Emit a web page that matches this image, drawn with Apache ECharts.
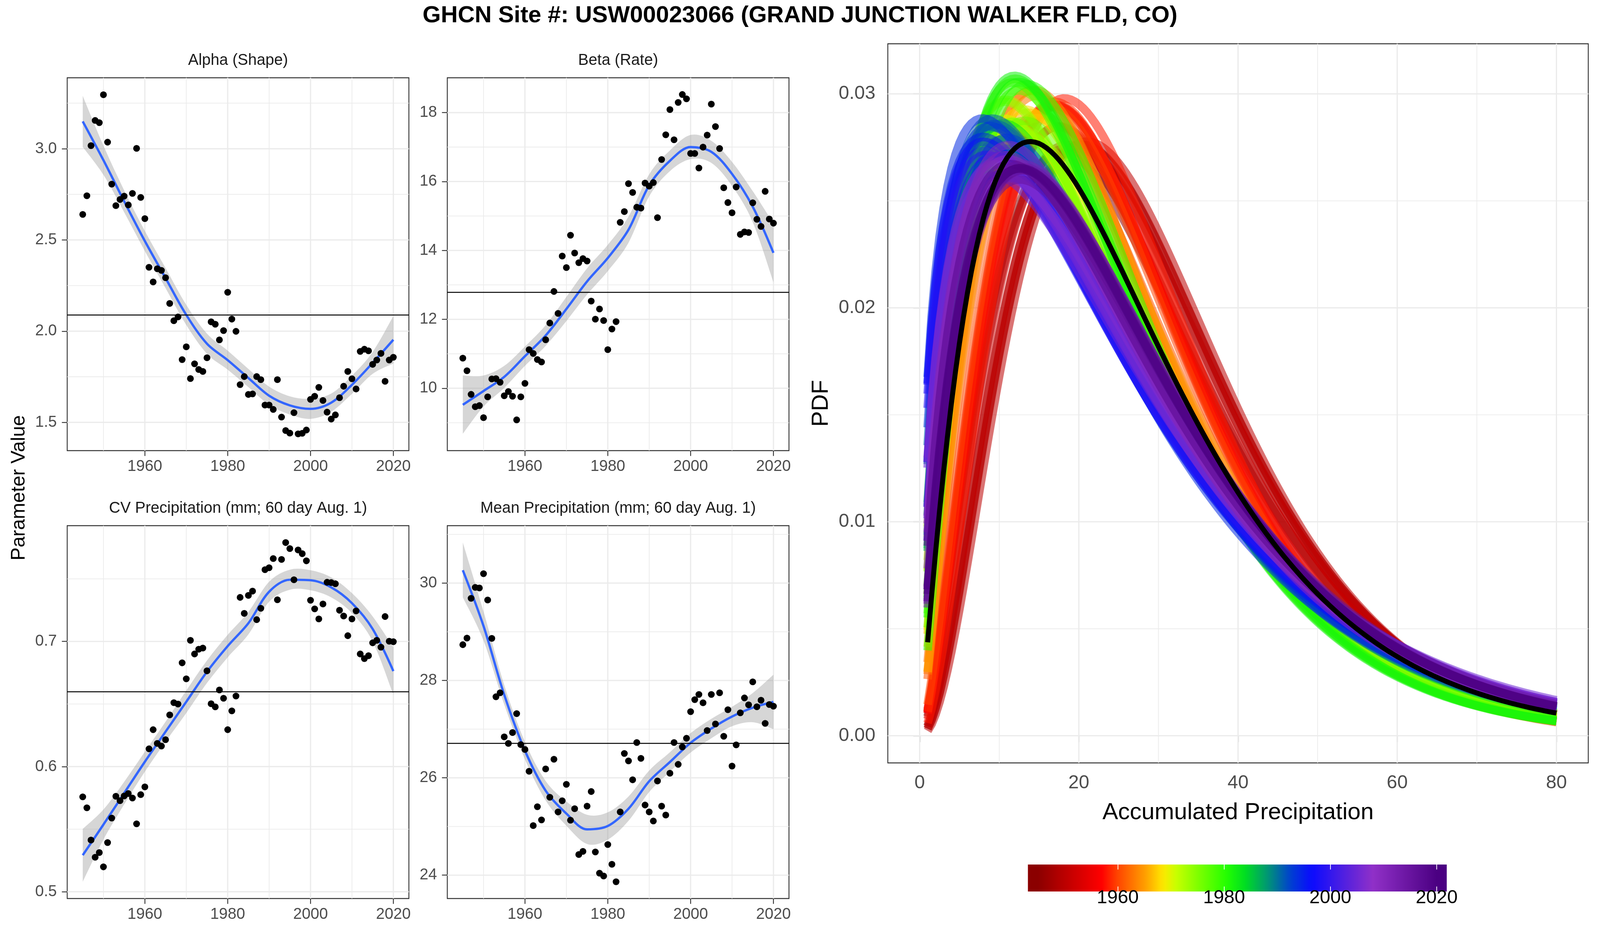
<!DOCTYPE html>
<html>
<head>
<meta charset="utf-8">
<title>GHCN USW00023066 gamma parameters</title>
<script src="https://cdn.jsdelivr.net/npm/echarts@6/dist/echarts.min.js"></script>
<style>
  html, body { margin: 0; padding: 0; background: #fff; overflow: hidden; }
  #chart { width: 100vw; height: 100vh; }
</style>
</head>
<body>
<div id="chart"></div>
<script>
// one value per year, 1945 - 2020
const years = Array.from({ length: 76 }, (_, i) => 1945 + i);

const alphaObs = [
  2.640, 2.742, 3.017, 3.155, 3.143, 3.296, 3.036, 2.806, 2.688, 2.722,
  2.740, 2.692, 2.755, 3.002, 2.733, 2.617, 2.350, 2.270, 2.342, 2.333,
  2.293, 2.152, 2.057, 2.078, 1.844, 1.914, 1.740, 1.821, 1.790, 1.779,
  1.854, 2.051, 2.038, 1.952, 2.003, 2.213, 2.066, 1.999, 1.707, 1.751,
  1.653, 1.656, 1.751, 1.734, 1.595, 1.595, 1.571, 1.734, 1.529, 1.455,
  1.441, 1.553, 1.437, 1.440, 1.458, 1.626, 1.643, 1.692, 1.620, 1.556,
  1.518, 1.541, 1.635, 1.698, 1.779, 1.739, 1.683, 1.889, 1.901, 1.892,
  1.818, 1.842, 1.878, 1.725, 1.842, 1.857
];
const betaObs = [
  10.874, 10.508, 9.823, 9.465, 9.497, 9.146, 9.752, 10.269, 10.277, 10.174,
  9.783, 9.903, 9.768, 9.083, 9.752, 10.142, 11.121, 11.010, 10.834, 10.763,
  11.408, 11.893, 12.809, 12.172, 13.836, 13.502, 14.441, 13.924, 13.645, 13.764,
  13.693, 12.530, 12.005, 12.299, 11.965, 11.121, 11.718, 11.933, 14.815, 15.126,
  15.938, 15.683, 15.253, 15.229, 15.954, 15.866, 15.970, 14.951, 16.639, 17.355,
  18.088, 17.212, 18.295, 18.525, 18.398, 16.814, 16.814, 16.392, 16.997, 17.347,
  18.247, 17.594, 16.957, 15.818, 15.389, 15.094, 15.842, 14.465, 14.537, 14.521,
  15.381, 14.903, 14.696, 15.715, 14.911, 14.791
];
const cvObs = [
  0.5758, 0.5671, 0.5413, 0.5276, 0.5313, 0.5199, 0.5393, 0.5589, 0.5763, 0.5728,
  0.5765, 0.5785, 0.5749, 0.5543, 0.5776, 0.5838, 0.6142, 0.6295, 0.6185, 0.6164,
  0.6215, 0.6413, 0.6511, 0.6500, 0.6829, 0.6701, 0.7009, 0.6900, 0.6938, 0.6947,
  0.6765, 0.6502, 0.6477, 0.6612, 0.6546, 0.6295, 0.6445, 0.6564, 0.7352, 0.7224,
  0.7368, 0.7402, 0.7174, 0.7265, 0.7573, 0.7589, 0.7662, 0.7333, 0.7655, 0.7790,
  0.7742, 0.7493, 0.7731, 0.7701, 0.7644, 0.7329, 0.7260, 0.7180, 0.7299, 0.7473,
  0.7470, 0.7461, 0.7249, 0.7203, 0.7046, 0.7180, 0.7244, 0.6900, 0.6863, 0.6886,
  0.6989, 0.7009, 0.6954, 0.7199, 0.7002, 0.6998
];
const meanObs = [
  28.735, 28.871, 29.688, 29.912, 29.900, 30.194, 29.653, 28.865, 27.665, 27.747,
  26.841, 26.706, 26.929, 27.318, 26.682, 26.582, 26.135, 25.018, 25.406, 25.135,
  26.182, 25.600, 26.382, 25.300, 25.529, 25.865, 25.129, 25.365, 24.424, 24.488,
  25.418, 25.718, 24.476, 24.041, 23.982, 24.629, 24.224, 23.865, 25.300, 26.500,
  26.347, 25.959, 26.724, 26.400, 25.441, 25.300, 25.112, 25.935, 25.418, 25.235,
  26.094, 26.724, 26.276, 26.635, 26.812, 27.359, 27.606, 27.712, 27.541, 26.971,
  27.712, 27.106, 27.747, 26.853, 27.400, 26.241, 26.676, 27.335, 27.641, 27.500,
  27.971, 27.459, 27.594, 27.118, 27.506, 27.471
];

// loess fit and its band, read every 5 years
const fitYears = [1945, 1950, 1955, 1960, 1965, 1970, 1975, 1980, 1985, 1990, 1995, 2000, 2005, 2010, 2015, 2020];
const alphaFit = [3.150, 2.937, 2.712, 2.494, 2.291, 2.089, 1.931, 1.841, 1.743, 1.646, 1.593, 1.574, 1.608, 1.706, 1.826, 1.953];
const alphaLo  = [3.010, 2.857, 2.652, 2.439, 2.236, 2.034, 1.876, 1.789, 1.693, 1.596, 1.543, 1.519, 1.558, 1.656, 1.766, 1.823];
const alphaHi  = [3.290, 3.017, 2.772, 2.549, 2.346, 2.144, 1.986, 1.893, 1.793, 1.696, 1.643, 1.629, 1.658, 1.756, 1.886, 2.083];
const betaFit  = [9.52, 9.92, 10.33, 10.93, 11.53, 12.30, 13.10, 13.78, 14.60, 15.89, 16.60, 17.00, 16.86, 16.22, 15.27, 13.93];
const betaLo   = [8.68, 9.47, 10.01, 10.65, 11.23, 11.95, 12.72, 13.40, 14.22, 15.57, 16.30, 16.65, 16.54, 15.87, 14.82, 13.08];
const betaHi   = [10.37, 10.37, 10.65, 11.21, 11.83, 12.65, 13.48, 14.16, 14.98, 16.21, 16.90, 17.35, 17.18, 16.57, 15.72, 14.78];
const cvFit    = [0.5292, 0.5537, 0.5788, 0.6039, 0.6279, 0.6518, 0.6758, 0.6963, 0.7146, 0.7397, 0.7493, 0.7489, 0.7432, 0.7306, 0.7100, 0.6763];
const cvLo     = [0.5080, 0.5417, 0.5698, 0.5959, 0.6199, 0.6428, 0.6668, 0.6873, 0.7056, 0.7317, 0.7413, 0.7409, 0.7352, 0.7226, 0.7000, 0.6575];
const cvHi     = [0.5502, 0.5657, 0.5878, 0.6119, 0.6359, 0.6608, 0.6848, 0.7053, 0.7236, 0.7477, 0.7573, 0.7569, 0.7512, 0.7386, 0.7200, 0.6953];
const meanFit  = [30.265, 29.118, 27.706, 26.559, 25.735, 25.265, 24.941, 25.010, 25.365, 25.929, 26.324, 26.718, 27.012, 27.259, 27.441, 27.559];
const meanLo   = [29.706, 28.818, 27.506, 26.379, 25.535, 25.015, 24.641, 24.730, 25.115, 25.709, 26.124, 26.518, 26.812, 27.059, 27.141, 27.000];
const meanHi   = [30.835, 29.418, 27.906, 26.739, 25.935, 25.515, 25.241, 25.290, 25.615, 26.149, 26.524, 26.918, 27.212, 27.459, 27.741, 28.118];

// long-term values (black reference lines)
const alphaAvg = 2.086;
const betaAvg = 12.79;
const cvAvg = 0.6573;
const meanAvg = 26.71;

const yearTicks = [1960, 1980, 2000, 2020];
const cbLabels = [1960, 1980, 2000, 2020];

// ---------- styles / layout (designed for 4500 x 2400, scaled to the viewport) ----------
const VW = window.innerWidth, VH = window.innerHeight;
const sx = VW / 4500, sy = VH / 2400, sf = Math.min(sx, sy);
const X = v => v * sx, Y = v => v * sy, S = v => v * sf;

const FONT = '"Liberation Sans", Arial, Helvetica, sans-serif';
const GRID_COLOR = '#EBEBEB';
const BORDER = '#333333';

const rampYears = [1945, 1957, 1960, 1965.5, 1968.5, 1971, 1975, 1980.5, 1984, 1988.5, 1992.5, 1996.5, 2002.5, 2008, 2020];
const rampColors = ['#8B0000', '#FF0000', '#FF4500', '#FFA500', '#FFE800', '#C8FF00', '#80FF00', '#22FF00',
  '#00DD22', '#00907A', '#0040D0', '#0A0AFF', '#5020E0', '#9030C8', '#4B0082'];
const cbMin = 1943.1, cbMax = 2021.9;

const panels = [
  { title: 'Alpha (Shape)', obs: alphaObs, fit: alphaFit, lo: alphaLo, hi: alphaHi, avg: alphaAvg,
    yMin: 1.345, yMax: 3.389, yTicks: [1.5, 2.0, 2.5, 3.0], yMinor: [1.75, 2.25, 2.75, 3.25], digits: 1 },
  { title: 'Beta (Rate)', obs: betaObs, fit: betaFit, lo: betaLo, hi: betaHi, avg: betaAvg,
    yMin: 8.19, yMax: 19.01, yTicks: [10, 12, 14, 16, 18], yMinor: [9, 11, 13, 15, 17], digits: 0 },
  { title: 'CV Precipitation (mm; 60 day Aug. 1)', obs: cvObs, fit: cvFit, lo: cvLo, hi: cvHi, avg: cvAvg,
    yMin: 0.4946, yMax: 0.7925, yTicks: [0.5, 0.6, 0.7], yMinor: [0.55, 0.65, 0.75], digits: 1 },
  { title: 'Mean Precipitation (mm; 60 day Aug. 1)', obs: meanObs, fit: meanFit, lo: meanLo, hi: meanHi, avg: meanAvg,
    yMin: 23.52, yMax: 31.18, yTicks: [24, 26, 28, 30], yMinor: [25, 27, 29, 31], digits: 0 }
];
const boxes = [
  { left: 189, top: 199 }, { left: 1258, top: 199 },
  { left: 189, top: 1345 }, { left: 1258, top: 1345 }
];
const PW = 961, PH = 954;

// ---------- helpers ----------
function hexToRgb(h) {
  return [parseInt(h.slice(1, 3), 16), parseInt(h.slice(3, 5), 16), parseInt(h.slice(5, 7), 16)];
}
function colorAt(yr) {
  if (yr <= rampYears[0]) return rampColors[0];
  const n = rampYears.length;
  if (yr >= rampYears[n - 1]) return rampColors[n - 1];
  let k = 0;
  while (yr > rampYears[k + 1]) k++;
  const t = (yr - rampYears[k]) / (rampYears[k + 1] - rampYears[k]);
  const a = hexToRgb(rampColors[k]), b = hexToRgb(rampColors[k + 1]);
  const c = a.map((v, i) => Math.round(v + (b[i] - v) * t));
  return 'rgb(' + c.join(',') + ')';
}

function lnGamma(z) {
  const c = [0.99999999999980993, 676.5203681218851, -1259.1392167224028, 771.32342877765313,
    -176.61502916214059, 12.507343278686905, -0.13857109526572012, 9.9843695780195716e-6, 1.5056327351493116e-7];
  if (z < 0.5) return Math.log(Math.PI / Math.sin(Math.PI * z)) - lnGamma(1 - z);
  z -= 1;
  let x = c[0];
  for (let i = 1; i < 9; i++) x += c[i] / (z + i);
  const t = z + 7.5;
  return 0.5 * Math.log(2 * Math.PI) + (z + 0.5) * Math.log(t) - t + Math.log(x);
}
// gamma density, shape a and scale b
function gammaPdf(x, a, b) {
  return Math.exp((a - 1) * Math.log(x) - x / b - lnGamma(a) - a * Math.log(b));
}

// catmull-rom through screen points, as bezier path pieces
function curveThrough(pts) {
  let d = '';
  for (let i = 0; i < pts.length - 1; i++) {
    const p0 = pts[Math.max(i - 1, 0)], p1 = pts[i], p2 = pts[i + 1], p3 = pts[Math.min(i + 2, pts.length - 1)];
    const c1x = p1[0] + (p2[0] - p0[0]) / 6, c1y = p1[1] + (p2[1] - p0[1]) / 6;
    const c2x = p2[0] - (p3[0] - p1[0]) / 6, c2y = p2[1] - (p3[1] - p1[1]) / 6;
    d += ' C' + c1x + ',' + c1y + ' ' + c2x + ',' + c2y + ' ' + p2[0] + ',' + p2[1];
  }
  return d;
}

// gridlines drawn as a custom series so minor/major breaks match ggplot
function gridSeries(idx, xMajor, xMinor, yMajor, yMinor) {
  const data = [];
  xMinor.forEach(v => data.push([v, 0, 0]));
  yMinor.forEach(v => data.push([v, 1, 0]));
  xMajor.forEach(v => data.push([v, 0, 1]));
  yMajor.forEach(v => data.push([v, 1, 1]));
  return {
    type: 'custom', xAxisIndex: idx, yAxisIndex: idx, silent: true, z: 1, data: data,
    renderItem: (params, api) => {
      const cs = params.coordSys;
      const v = api.value(0), horiz = api.value(1) === 1, major = api.value(2) === 1;
      let shape;
      if (horiz) {
        const y = api.coord([xMajor[0], v])[1];
        shape = { x1: cs.x, y1: y, x2: cs.x + cs.width, y2: y };
      } else {
        const x = api.coord([v, yMajor[0]])[0];
        shape = { x1: x, y1: cs.y, x2: x, y2: cs.y + cs.height };
      }
      return { type: 'line', shape: shape, style: { stroke: GRID_COLOR, lineWidth: S(major ? 3.5 : 2) } };
    }
  };
}

const plainLabel = v => String(v);

// ---------- build option ----------
const grid = [], xAxis = [], yAxis = [], series = [], graphic = [];

panels.forEach((p, i) => {
  grid.push({ left: X(boxes[i].left), top: Y(boxes[i].top), width: X(PW), height: Y(PH),
    show: true, borderColor: BORDER, borderWidth: S(2.5), backgroundColor: 'transparent' });
  xAxis.push({
    type: 'value', gridIndex: i, min: 1941.25, max: 2023.75,
    axisLine: { show: false }, splitLine: { show: false },
    axisTick: { show: true, customValues: yearTicks, length: S(15), lineStyle: { color: BORDER, width: S(2.5) } },
    axisLabel: { customValues: yearTicks, margin: S(23), color: '#4D4D4D', fontSize: S(44), fontFamily: FONT,
      formatter: plainLabel }
  });
  yAxis.push({
    type: 'value', gridIndex: i, min: p.yMin, max: p.yMax,
    axisLine: { show: false }, splitLine: { show: false },
    axisTick: { show: true, customValues: p.yTicks, length: S(15), lineStyle: { color: BORDER, width: S(2.5) } },
    axisLabel: { customValues: p.yTicks, margin: S(29), color: '#4D4D4D', fontSize: S(44), fontFamily: FONT,
      formatter: v => Number(v).toFixed(p.digits) }
  });

  series.push(gridSeries(i, yearTicks, [1950, 1970, 1990, 2010], p.yTicks, p.yMinor));

  // confidence band
  series.push({
    type: 'custom', xAxisIndex: i, yAxisIndex: i, silent: true, z: 2,
    data: [[fitYears[0], p.fit[0]]],
    renderItem: (params, api) => {
      const up = fitYears.map((y, k) => api.coord([y, p.hi[k]]));
      const dn = fitYears.map((y, k) => api.coord([y, p.lo[k]])).reverse();
      const d = 'M' + up[0][0] + ',' + up[0][1] + curveThrough(up) +
        ' L' + dn[0][0] + ',' + dn[0][1] + curveThrough(dn) + ' Z';
      return { type: 'path', shape: { pathData: d }, style: { fill: 'rgba(153,153,153,0.4)' } };
    }
  });

  // loess line
  series.push({
    type: 'line', xAxisIndex: i, yAxisIndex: i, silent: true, z: 3,
    data: fitYears.map((y, k) => [y, p.fit[k]]),
    smooth: 0.33, showSymbol: false,
    lineStyle: { color: '#3366FF', width: S(6.5) }
  });

  // yearly values + long-term line
  series.push({
    type: 'scatter', xAxisIndex: i, yAxisIndex: i, silent: true, z: 4,
    data: years.map((y, k) => [y, p.obs[k]]),
    symbolSize: S(19), itemStyle: { color: '#000', opacity: 1 },
    markLine: {
      silent: true, symbol: 'none', animation: false, label: { show: false },
      lineStyle: { color: '#000', width: S(2.5), type: 'solid', opacity: 1 },
      data: [{ yAxis: p.avg }]
    }
  });

  graphic.push({
    type: 'text', x: X(boxes[i].left + PW / 2), y: Y(boxes[i].top - 44),
    style: { text: p.title, fill: '#1A1A1A', font: S(44) + 'px ' + FONT, align: 'center', verticalAlign: 'middle' }
  });
});

// ---------- PDF panel ----------
const pdfIdx = 4;
grid.push({ left: X(2497), top: Y(112), width: X(1970), height: Y(1840),
  show: true, borderColor: BORDER, borderWidth: S(2.5), backgroundColor: 'transparent' });
xAxis.push({
  type: 'value', gridIndex: pdfIdx, min: -4, max: 84,
  axisLine: { show: false }, splitLine: { show: false },
  axisTick: { show: true, customValues: [0, 20, 40, 60, 80], length: S(18), lineStyle: { color: BORDER, width: S(2.5) } },
  axisLabel: { customValues: [0, 20, 40, 60, 80], margin: S(30), color: '#4D4D4D', fontSize: S(53), fontFamily: FONT,
    formatter: plainLabel }
});
yAxis.push({
  type: 'value', gridIndex: pdfIdx, min: -0.00127, max: 0.03234,
  axisLine: { show: false }, splitLine: { show: false },
  axisTick: { show: true, customValues: [0, 0.01, 0.02, 0.03], length: S(18), lineStyle: { color: BORDER, width: S(2.5) } },
  axisLabel: { customValues: [0, 0.01, 0.02, 0.03], margin: S(35), color: '#4D4D4D', fontSize: S(53), fontFamily: FONT,
    formatter: v => Number(v).toFixed(2) }
});
series.push(gridSeries(pdfIdx, [0, 20, 40, 60, 80], [10, 30, 50, 70], [0, 0.01, 0.02, 0.03], [0.005, 0.015, 0.025]));

const pdfX = [];
for (let x = 1; x <= 80; x += 0.5) pdfX.push(x);

years.forEach((yr, k) => {
  series.push({
    type: 'line', xAxisIndex: pdfIdx, yAxisIndex: pdfIdx, silent: true, z: 2,
    data: pdfX.map(x => [x, gammaPdf(x, alphaObs[k], betaObs[k])]),
    showSymbol: false,
    lineStyle: { color: colorAt(yr), width: S(24), opacity: 0.55, join: 'round' }
  });
});
series.push({
  type: 'line', xAxisIndex: pdfIdx, yAxisIndex: pdfIdx, silent: true, z: 3,
  data: pdfX.map(x => [x, gammaPdf(x, alphaAvg, betaAvg)]),
  showSymbol: false,
  lineStyle: { color: '#000', width: S(14) }
});

// ---------- colour bar ----------
const cbIdx = 5;
grid.push({ left: X(2891), top: Y(2212), width: X(1178), height: Y(69) });
xAxis.push({
  type: 'value', gridIndex: cbIdx, min: cbMin, max: cbMax, z: 6,
  axisLine: { show: false }, splitLine: { show: false },
  axisTick: { show: true, inside: true, customValues: cbLabels, length: S(14), lineStyle: { color: '#fff', width: S(2) } },
  axisLabel: { customValues: cbLabels, margin: S(-8), color: '#000', fontSize: S(53), fontFamily: FONT,
    formatter: plainLabel }
});
xAxis.push({
  type: 'value', gridIndex: cbIdx, position: 'top', min: cbMin, max: cbMax, z: 6,
  axisLine: { show: false }, splitLine: { show: false }, axisLabel: { show: false },
  axisTick: { show: true, inside: true, customValues: cbLabels, length: S(14), lineStyle: { color: '#fff', width: S(2) } }
});
yAxis.push({ type: 'value', gridIndex: cbIdx, min: 0, max: 1, show: false });

const cbStops = [];
for (let yr = Math.ceil(cbMin); yr <= Math.floor(cbMax); yr++) {
  cbStops.push({ offset: (yr - cbMin) / (cbMax - cbMin), color: colorAt(yr) });
}
series.push({
  type: 'custom', xAxisIndex: cbIdx, yAxisIndex: cbIdx, silent: true, z: 2,
  data: [[cbMin, 0]],
  renderItem: (params, api) => {
    const a = api.coord([cbMin, 1]), b = api.coord([cbMax, 0]);
    return {
      type: 'rect',
      shape: { x: a[0], y: a[1], width: b[0] - a[0], height: b[1] - a[1] },
      style: { fill: new echarts.graphic.LinearGradient(0, 0, 1, 0, cbStops) }
    };
  }
});

// ---------- titles ----------
graphic.push(
  { type: 'text', x: X(2250), y: Y(40),
    style: { text: 'GHCN Site #: USW00023066 (GRAND JUNCTION WALKER FLD, CO)', fill: '#000',
      font: 'bold ' + S(66) + 'px ' + FONT, align: 'center', verticalAlign: 'middle' } },
  { type: 'text', x: X(54), y: Y(1248), rotation: Math.PI / 2,
    style: { text: 'Parameter Value', fill: '#000', font: S(55) + 'px ' + FONT, align: 'center', verticalAlign: 'middle' } },
  { type: 'text', x: X(2310), y: Y(1032), rotation: Math.PI / 2,
    style: { text: 'PDF', fill: '#000', font: S(66) + 'px ' + FONT, align: 'center', verticalAlign: 'middle' } },
  { type: 'text', x: X(3482), y: Y(2079),
    style: { text: 'Accumulated Precipitation', fill: '#000', font: S(66) + 'px ' + FONT, align: 'center', verticalAlign: 'middle' } }
);

const chart = echarts.init(document.getElementById('chart'));
chart.setOption({
  backgroundColor: '#fff',
  animation: false,
  grid: grid,
  xAxis: xAxis,
  yAxis: yAxis,
  series: series,
  graphic: graphic
});
</script>
</body>
</html>
